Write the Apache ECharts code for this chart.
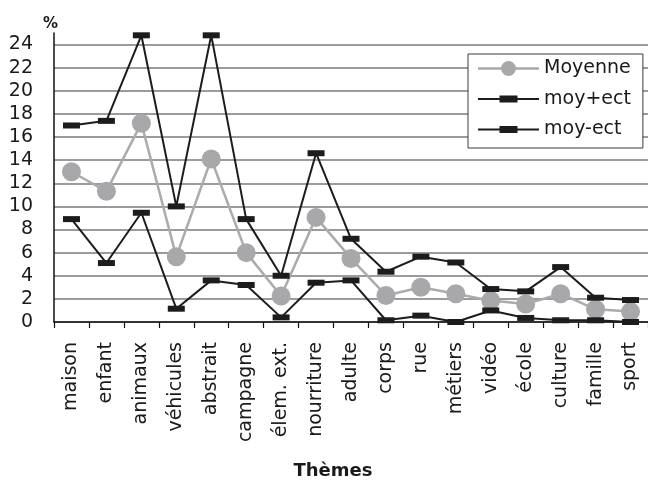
<!DOCTYPE html>
<html>
<head>
<meta charset="utf-8">
<script src="https://cdn.jsdelivr.net/npm/echarts@6/dist/echarts.min.js"></script>
<style>
html,body{margin:0;padding:0;background:#fff;}
#chart{width:648px;height:480px;}
</style>
</head>
<body>
<div id="chart"></div>
<script>
const categories = ['maison','enfant','animaux','véhicules','abstrait','campagne','élem. ext.','nourriture','adulte','corps','rue','métiers','vidéo','école','culture','famille','sport'];
const moyenne  = [13.0, 11.3, 17.2, 5.65, 14.1, 6.0, 2.25, 9.05, 5.5, 2.3, 3.0, 2.45, 1.85, 1.55, 2.45, 1.1, 0.9];
const moyPlus  = [17.0, 17.4, 24.8, 10.0, 24.8, 8.9, 4.0, 14.6, 7.2, 4.35, 5.65, 5.15, 2.85, 2.65, 4.75, 2.1, 1.9];
const moyMinus = [8.9, 5.1, 9.45, 1.15, 3.6, 3.2, 0.4, 3.4, 3.6, 0.15, 0.55, 0.0, 1.0, 0.35, 0.15, 0.15, 0.0];
const seriesNames = ['Moyenne', 'moy+ect', 'moy-ect'];
const yMin = 0, yMax = 25, yStep = 2;
const yUnit = '%';
const xTitle = 'Thèmes';

const FONT = 'DejaVu Sans';
const circleIcon = 'path://M0,8.8H23.5V11.2H0Z M37.5,8.8H61V11.2H37.5Z M23,10a7.5,7.5 0 1,1 15,0a7.5,7.5 0 1,1 -15,0Z';
const rectIcon = 'path://M0,9H21.5V11H0Z M39.5,9H61V11H39.5Z M21.5,6.5H39.5V13.5H21.5Z';

const chart = echarts.init(document.getElementById('chart'), null, {renderer: 'canvas'});
chart.setOption({
  animation: false,
  backgroundColor: '#ffffff',
  grid: {left: 54, top: 33, width: 597, height: 289, containLabel: false},
  legend: {
    orient: 'vertical',
    left: 468, top: 54,
    padding: [5, 12, 9, 10],
    itemWidth: 61, itemHeight: 20, itemGap: 11.5,
    backgroundColor: '#ffffff',
    borderColor: '#3a3a3a', borderWidth: 1, borderRadius: 0,
    textStyle: {fontFamily: FONT, fontSize: 19, color: '#1a1a1a'},
    itemStyle: {borderWidth: 0},
    data: [
      {name: seriesNames[0], icon: circleIcon},
      {name: seriesNames[1], icon: rectIcon},
      {name: seriesNames[2], icon: rectIcon}
    ]
  },
  xAxis: {
    type: 'category',
    data: categories,
    boundaryGap: true,
    axisLine: {lineStyle: {color: '#111', width: 1.5}},
    axisTick: {show: true, length: 6, lineStyle: {color: '#111', width: 1.2}},
    axisLabel: {rotate: 90, interval: 0, margin: 20, fontFamily: FONT, fontSize: 19, color: '#1a1a1a'},
    splitLine: {show: false}
  },
  yAxis: {
    type: 'value',
    min: yMin, max: yMax, interval: yStep,
    axisLine: {show: true, lineStyle: {color: '#111', width: 1.5}},
    axisTick: {show: false},
    axisLabel: {margin: 21, fontFamily: FONT, fontSize: 19, color: '#1a1a1a', showMaxLabel: false},
    splitLine: {show: true, showMaxLine: false, lineStyle: {color: '#7a7a7a', width: 1.5}}
  },
  graphic: [
    {type: 'text', left: 43, top: 17, style: {text: yUnit, font: 'bold 15px "DejaVu Sans"', fill: '#1a1a1a'}},
    {type: 'text', x: 333, y: 471, style: {text: xTitle, font: 'bold 18px "DejaVu Sans"', fill: '#1a1a1a', textAlign: 'center', textVerticalAlign: 'middle'}}
  ],
  series: [
    {
      name: seriesNames[0], type: 'line', data: moyenne,
      symbol: 'circle', symbolSize: 19,
      itemStyle: {color: '#a8a8aa', borderWidth: 0},
      lineStyle: {color: '#ababab', width: 2.5},
      z: 2
    },
    {
      name: seriesNames[1], type: 'line', data: moyPlus,
      symbol: 'rect', symbolSize: [17, 6],
      itemStyle: {color: '#1c1c1c', borderWidth: 0},
      lineStyle: {color: '#1c1c1c', width: 2},
      clip: false, z: 3
    },
    {
      name: seriesNames[2], type: 'line', data: moyMinus,
      symbol: 'rect', symbolSize: [17, 6],
      itemStyle: {color: '#1c1c1c', borderWidth: 0},
      lineStyle: {color: '#1c1c1c', width: 2},
      clip: false, z: 3
    }
  ]
});
</script>
</body>
</html>
